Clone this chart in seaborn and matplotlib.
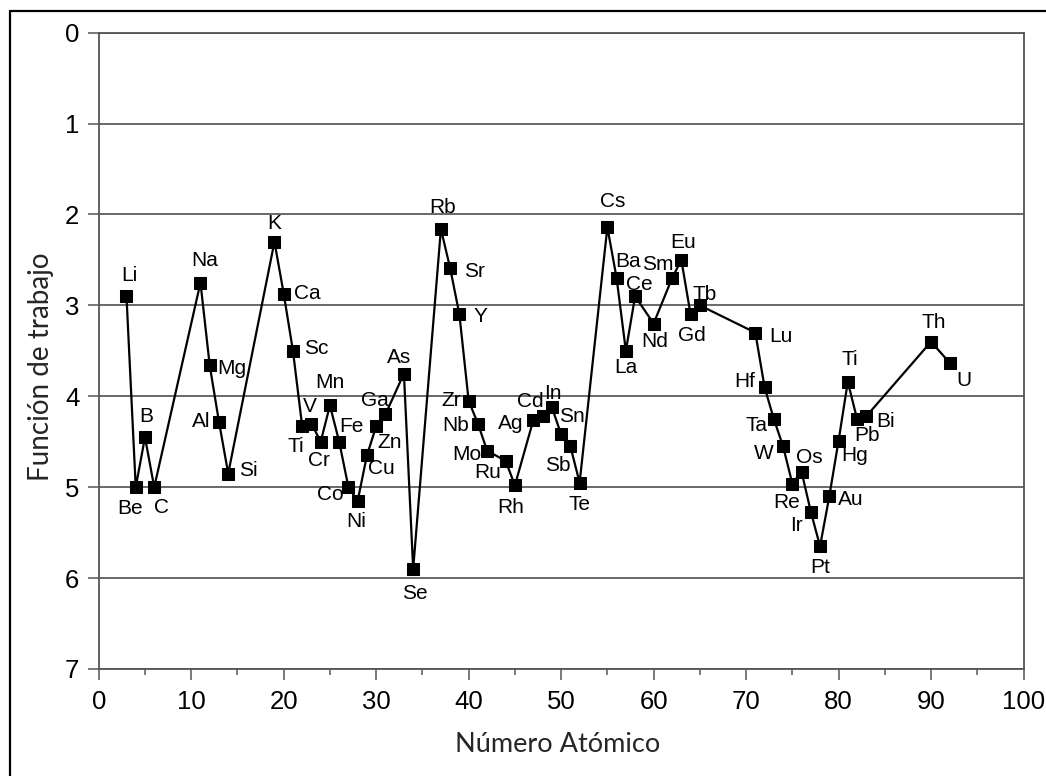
import matplotlib
matplotlib.use("Agg")
import matplotlib.pyplot as plt
from matplotlib.lines import Line2D
from matplotlib.ticker import MultipleLocator
import seaborn as sns
import pandas as pd

# Datos: función de trabajo (eV) vs número atómico
simbolos = ['Li', 'Be', 'B', 'C', 'Na', 'Mg', 'Al', 'Si', 'K', 'Ca', 'Sc', 'Ti', 'V', 'Cr',
            'Mn', 'Fe', 'Co', 'Ni', 'Cu', 'Zn', 'Ga', 'As', 'Se', 'Rb', 'Sr', 'Y', 'Zr', 'Nb',
            'Mo', 'Ru', 'Rh', 'Ag', 'Cd', 'In', 'Sn', 'Sb', 'Te', 'Cs', 'Ba', 'La', 'Ce', 'Nd',
            'Sm', 'Eu', 'Gd', 'Tb', 'Lu', 'Hf', 'Ta', 'W', 'Re', 'Os', 'Ir', 'Pt', 'Au', 'Hg',
            'Ti', 'Pb', 'Bi', 'Th', 'U']
numero_atomico = [3, 4, 5, 6, 11, 12, 13, 14, 19, 20, 21, 22, 23, 24, 25, 26, 27, 28, 29, 30,
                  31, 33, 34, 37, 38, 39, 40, 41, 42, 44, 45, 47, 48, 49, 50, 51, 52, 55, 56, 57,
                  58, 60, 62, 63, 64, 65, 71, 72, 73, 74, 75, 76, 77, 78, 79, 80, 81, 82, 83, 90, 92]
funcion_trabajo = [2.9, 5.0, 4.45, 5.0, 2.75, 3.66, 4.28, 4.85, 2.3, 2.87, 3.5, 4.33, 4.3, 4.5,
                   4.1, 4.5, 5.0, 5.15, 4.65, 4.33, 4.2, 3.75, 5.9, 2.16, 2.59, 3.1, 4.05, 4.3,
                   4.6, 4.71, 4.98, 4.26, 4.22, 4.12, 4.42, 4.55, 4.95, 2.14, 2.7, 3.5, 2.9, 3.2,
                   2.7, 2.5, 3.1, 3.0, 3.3, 3.9, 4.25, 4.55, 4.96, 4.83, 5.27, 5.65, 5.1, 4.49,
                   3.84, 4.25, 4.22, 3.4, 3.63]

# desplazamiento de cada etiqueta respecto al punto (pixeles, y hacia abajo)
desplazamientos = [(3, -21), (-6, 21), (1, -21), (7, 20), (4, -22), (22, 3), (-18, 0), (20, -3),
                   (0, -18), (24, 0), (23, -2), (-6, 20), (-2, -17), (-2, 19), (0, -23), (12, -15),
                   (-18, 7), (-1, 21), (14, 13), (13, 16), (-11, -14), (-5, -16), (2, 25), (2, -22),
                   (24, 3), (21, 2), (-17, 0), (-22, 2), (-20, 4), (-18, 12), (-4, 22), (-23, 4),
                   (-12, -15), (1, -14), (11, -18), (-13, 19), (0, 22), (5, -26), (11, -17), (0, 17),
                   (4, -12), (1, 18), (-14, -14), (2, -17), (1, 21), (5, -11), (26, 4), (-20, -6),
                   (-17, 6), (-19, 7), (-6, 19), (8, -14), (-14, 14), (0, 21), (21, 3), (16, 15),
                   (2, -22), (10, 16), (19, 5), (3, -19), (14, 18)]

df = pd.DataFrame({'Z': numero_atomico, 'phi': funcion_trabajo, 'sym': simbolos})

sns.set_style('white')
plt.rcParams['font.family'] = ['Liberation Sans', 'DejaVu Sans']

gris = '#555555'
fig = plt.figure(figsize=(10.46, 7.76), dpi=100)
ax = fig.add_axes([0.0944, 0.1379, 0.8841, 0.8200])

# lineas horizontales de la rejilla
for v in range(0, 8):
    ax.axhline(v, color='#404040', lw=1.1, zorder=1)

sns.lineplot(data=df, x='Z', y='phi', ax=ax, color='black', lw=1.6, marker='s',
             markersize=9, markeredgecolor='black', sort=False, zorder=3)

for s, x, y, (dx, dy) in zip(simbolos, numero_atomico, funcion_trabajo, desplazamientos):
    ax.annotate(s, (x, y), xytext=(dx, -dy), textcoords='offset pixels',
                ha='center', va='center', fontsize=15, color='black', zorder=4)

ax.set_xlim(0, 100)
ax.set_ylim(7, 0)
ax.xaxis.set_major_locator(MultipleLocator(10))
ax.xaxis.set_minor_locator(MultipleLocator(5))
ax.yaxis.set_major_locator(MultipleLocator(1))
ax.tick_params(axis='both', which='major', direction='out', length=8, width=1.1,
               color=gris, labelsize=18.5, labelcolor='black', bottom=True, left=True)
ax.tick_params(axis='x', which='minor', direction='out', length=4, width=1.1,
               color=gris, bottom=True)
ax.tick_params(axis='x', pad=7)
ax.tick_params(axis='y', pad=6)
for sp in ax.spines.values():
    sp.set_color(gris)
    sp.set_linewidth(1.3)
ax.set_xlabel('')
ax.set_ylabel('')

fig.text(558 / 1046, 1 - 745 / 776, 'Número Atómico', ha='center', va='center',
         fontsize=19.5, family=['Lato', 'DejaVu Sans'])
fig.text(41 / 1046, 1 - 367 / 776, 'Función de trabajo', ha='center', va='center',
         rotation=90, fontsize=20, family=['Lato', 'DejaVu Sans'])

# marco exterior
fig.add_artist(Line2D([9.5 / 1046, 9.5 / 1046], [0, 1 - 10.5 / 776], color='black', lw=1.6))
fig.add_artist(Line2D([9.5 / 1046, 1], [1 - 10.5 / 776, 1 - 10.5 / 776], color='black', lw=1.6))

fig.savefig('out.png', dpi=100)
